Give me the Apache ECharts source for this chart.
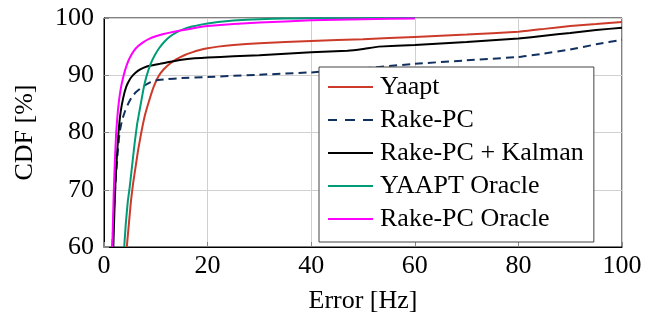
<!DOCTYPE html>
<html>
<head>
<meta charset="utf-8">
<script src="https://cdn.jsdelivr.net/npm/echarts@6/dist/echarts.min.js"></script>
<style>html,body{margin:0;padding:0;background:#fff;}#c{width:667px;height:314px;}</style>
</head>
<body>
<div id="c"></div>
<script>
var seriesNames = ['Yaapt', 'Rake-PC', 'Rake-PC + Kalman', 'YAAPT Oracle', 'Rake-PC Oracle'];
var xTicks = [0, 20, 40, 60, 80, 100];
var yTicks = [60, 70, 80, 90, 100];

var yaapt = [[4.4,60],[4.8,64],[5.2,68],[5.6,71],[6.1,74],[6.6,77],[7.2,80],[7.9,83],[8.7,85.5],[9.6,88],[10.5,89.8],[11.5,91],[12.7,92],[14,92.8],[15.5,93.5],[17,94],[18.5,94.4],[20,94.7],[22,95],[25,95.3],[30,95.6],[40,96],[50,96.3],[60,96.7],[70,97.1],[80,97.6],[85,98.1],[90,98.6],[95,98.95],[100,99.3]];
var rakePC = [[1.6,60],[1.9,66],[2.2,71],[2.6,76],[3.0,80],[3.5,82.2],[4.1,83.8],[4.7,85.1],[5.3,86.1],[6.0,86.9],[6.9,87.6],[8.0,88.3],[9.0,88.8],[10,89.1],[12,89.3],[15,89.5],[20,89.7],[30,90.1],[40,90.5],[50,91.2],[60,92.0],[70,92.6],[80,93.2],[85,93.8],[90,94.5],[95,95.4],[100,96.2]];
var rakeKalman = [[1.8,60],[2.0,66],[2.2,71],[2.5,76],[2.8,80],[3.2,83.5],[3.7,86],[4.3,88],[5.0,89.3],[5.7,90.1],[6.6,90.8],[7.6,91.3],[9,91.7],[10.8,92.0],[12.5,92.3],[15,92.7],[17.5,92.95],[20,93.1],[25,93.3],[30,93.5],[40,94],[47,94.3],[50,94.6],[53,95],[60,95.3],[70,95.8],[80,96.4],[85,96.9],[90,97.4],[95,97.9],[100,98.3]];
var yaaptOracle = [[3.9,60],[4.2,64],[4.6,68],[4.9,70],[5.4,74],[5.9,78],[6.4,81.5],[7.0,84.5],[7.6,87.5],[8.2,89.8],[9,92],[9.8,93.5],[10.7,94.8],[11.7,95.9],[12.8,96.8],[14,97.5],[15.5,98.1],[17,98.5],[18.5,98.8],[20,99.05],[22,99.3],[25,99.55],[30,99.8],[35,99.9],[40,99.95],[60,100]];
var rakeOracle = [[1.6,60],[1.75,65],[1.9,70],[2.1,75],[2.35,80],[2.7,84],[3.2,87.5],[3.8,90],[4.4,91.8],[5.0,93.1],[5.8,94.3],[6.6,95.1],[7.6,95.8],[8.8,96.4],[10,96.8],[11.5,97.2],[13.5,97.6],[16,98.0],[18,98.35],[20,98.6],[25,98.95],[30,99.2],[40,99.6],[50,99.8],[60,99.9]];

var colors = ['#cc3b2a', '#12305f', '#000000', '#009b77', '#ff00ff'];
var dataSets = [yaapt, rakePC, rakeKalman, yaaptOracle, rakeOracle];
var font = "'Liberation Serif', 'Times New Roman', serif";
var solidIcon = 'path://M0,0H45V2H0Z';
var dashIcon = 'path://M0,0H9V2H0Z M17,0H27V2H17Z M35,0H45V2H35Z';

var chart = echarts.init(document.getElementById('c'), null, {renderer: 'canvas'});
var series = seriesNames.map(function (n, i) {
  return {
    name: n,
    type: 'line',
    data: dataSets[i],
    showSymbol: false,
    symbol: 'none',
    smooth: 0.1,
    z: 2 + i,
    lineStyle: {color: colors[i], width: 2, type: i === 1 ? [8, 5] : 'solid'},
    itemStyle: {color: colors[i]}
  };
});

chart.setOption({
  animation: false,
  backgroundColor: '#fff',
  textStyle: {fontFamily: font},
  grid: {left: 104, right: 45, top: 18, bottom: 67, containLabel: false, outerBoundsMode: 'none', show: true, borderColor: '#000', borderWidth: 1, backgroundColor: 'transparent'},
  xAxis: {
    type: 'value', min: xTicks[0], max: xTicks[xTicks.length - 1], interval: 20,
    name: 'Error [Hz]', nameLocation: 'middle', nameGap: 41,
    nameTextStyle: {fontFamily: font, fontSize: 26, color: '#000'},
    axisLine: {show: true, lineStyle: {color: '#000', width: 1}},
    axisTick: {show: true, inside: true, length: 5, lineStyle: {color: '#888'}},
    axisLabel: {fontFamily: font, fontSize: 26, color: '#000', margin: 6},
    splitLine: {show: true, lineStyle: {color: '#d0d0d0', width: 1}}
  },
  yAxis: {
    type: 'value', min: yTicks[0], max: yTicks[yTicks.length - 1], interval: 10,
    name: 'CDF [%]', nameLocation: 'middle', nameGap: 66,
    nameTextStyle: {fontFamily: font, fontSize: 26, color: '#000'},
    axisLine: {show: true, lineStyle: {color: '#000', width: 1}},
    axisTick: {show: true, inside: true, length: 5, lineStyle: {color: '#888'}},
    axisLabel: {fontFamily: font, fontSize: 26, color: '#000', margin: 10},
    splitLine: {show: true, lineStyle: {color: '#d0d0d0', width: 1}}
  },
  legend: {
    data: seriesNames.map(function (n, i) {
      return {name: n, icon: i === 1 ? dashIcon : solidIcon, itemStyle: {color: colors[i]}};
    }),
    orient: 'vertical',
    left: 319, top: 67,
    padding: [7, 10, 10, 9],
    itemGap: 7,
    itemWidth: 45, itemHeight: 2,
    symbolKeepAspect: false,
    backgroundColor: '#fff',
    borderColor: '#444', borderWidth: 1, borderRadius: 0,
    textStyle: {fontFamily: font, fontSize: 26, color: '#000', lineHeight: 25, height: 25, padding: [0, 0, 0, 2]}
  },
  series: series
});
</script>
</body>
</html>
